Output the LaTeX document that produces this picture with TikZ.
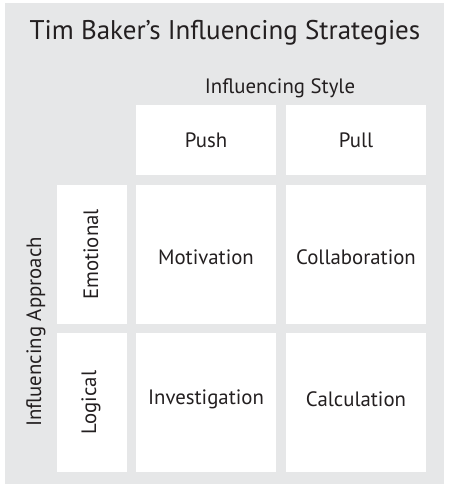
\documentclass[tikz,border=0pt]{standalone}
\usepackage{fontspec}
\setmainfont{PT Sans}
\definecolor{bggray}{HTML}{E6E7E8}
\definecolor{txt}{HTML}{231F20}
\begin{document}
\begin{tikzpicture}[x=1pt,y=-1pt,
  lbl/.style={text=txt,font=\fontsize{20.8}{24}\selectfont}]
\useasboundingbox (0,0) rectangle (450,496);
\fill[white] (0,0) rectangle (450,496);
\fill[bggray] (5,3) rectangle (444,484);
\node[lbl,font=\fontsize{27}{32}\selectfont] (title) at (225,33) {Tim Baker’s Influencing Strategies};
\node[lbl] (style) at (280,88) {Influencing Style};
\node[lbl,rotate=90] (approach) at (36,332) {Influencing Approach};
% header
\fill[white] (136,105) rectangle (276,175);
\fill[white] (286,105) rectangle (426,175);
\node[lbl] (push) at (206,140) {Push};
\node[lbl] (pull) at (356,140) {Pull};
% side labels
\fill[white] (57,185) rectangle (127,324);
\fill[white] (57,333) rectangle (127,472);
\node[lbl,rotate=90] (emo) at (91,254.5) {Emotional};
\node[lbl,rotate=90] (log) at (91,402.5) {Logical};
% cells
\fill[white] (136,185) rectangle (276,324);
\fill[white] (286,185) rectangle (426,324);
\fill[white] (136,333) rectangle (276,472);
\fill[white] (286,333) rectangle (426,472);
\node[lbl] (mot) at (206,257) {Motivation};
\node[lbl] (col) at (356,257) {Collaboration};
\node[lbl] (inv) at (206,399) {Investigation};
\node[lbl] (cal) at (356,399) {Calculation};
\end{tikzpicture}
\end{document}
